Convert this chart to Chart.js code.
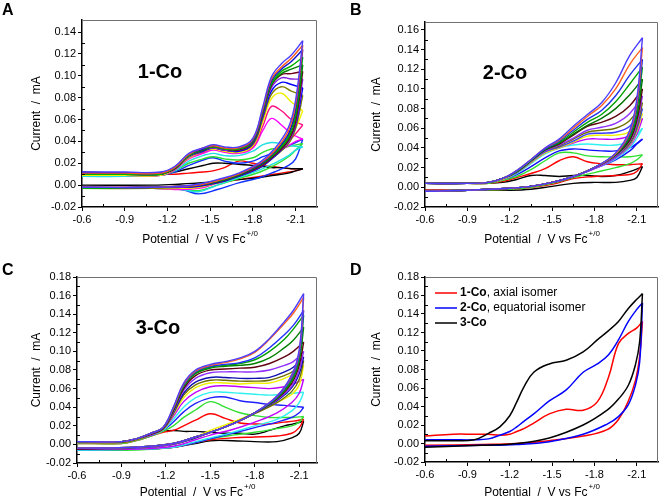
<!DOCTYPE html>
<html>
<head>
<meta charset="utf-8">
<script src="https://cdn.jsdelivr.net/npm/chart.js@4.4.1/dist/chart.umd.min.js"></script>
<style>
body { margin: 0; background: #fff; }
#wrap { position: relative; width: 661px; height: 500px; }
canvas { position: absolute; }
</style>
</head>
<body>
<div id="wrap">
  <canvas id="cA" width="330" height="250" style="left:0px;top:0px"></canvas>
  <canvas id="cB" width="331" height="250" style="left:330px;top:0px"></canvas>
  <canvas id="cC" width="330" height="250" style="left:0px;top:250px"></canvas>
  <canvas id="cD" width="331" height="250" style="left:330px;top:250px"></canvas>
</div>
<script>
// ---- axis ticks ----
const xTicks = [-0.6, -0.9, -1.2, -1.5, -1.8, -2.1];
const xMinor = [-0.75, -1.05, -1.35, -1.65, -1.95];
const yTicksA = [-0.02, 0, 0.02, 0.04, 0.06, 0.08, 0.10, 0.12, 0.14];
const yTicksB = [-0.02, 0, 0.02, 0.04, 0.06, 0.08, 0.10, 0.12, 0.14, 0.16];
const yTicksC = [-0.02, 0, 0.02, 0.04, 0.06, 0.08, 0.10, 0.12, 0.14, 0.16, 0.18];

// ---- panel A : 1-Co ----
const potFwdA = [-0.6, -0.9, -1.15, -1.25, -1.35, -1.45, -1.52, -1.6, -1.7, -1.8, -1.87, -1.93, -2.0, -2.07, -2.15];
const potRevA = [-2.15, -2.1, -2.05, -1.95, -1.85, -1.7, -1.55, -1.42, -1.3, -1.1, -0.6];
const colorsA = ['#4b3cff','#ff5a1e','#1010c8','#00b000','#008000','#700020','#8020e0','#0000ff','#808000','#f0f000','#ff1080','#ff00ff','#20e0e0','#30e030','#1030ff','#000000','#ff0000'];
const fwdA = [
  [0.012,0.012,0.012,0.017,0.029,0.034,0.037,0.035,0.035,0.043,0.072,0.099,0.111,0.119,0.132],
  [0.011,0.011,0.011,0.016,0.028,0.034,0.036,0.034,0.034,0.042,0.070,0.097,0.108,0.116,0.128],
  [0.011,0.011,0.011,0.016,0.028,0.033,0.036,0.034,0.034,0.041,0.069,0.095,0.106,0.113,0.124],
  [0.010,0.010,0.010,0.016,0.027,0.033,0.035,0.033,0.033,0.040,0.068,0.093,0.104,0.109,0.117],
  [0.010,0.010,0.010,0.015,0.027,0.032,0.035,0.033,0.033,0.040,0.067,0.092,0.102,0.106,0.110],
  [0.011,0.011,0.011,0.015,0.027,0.032,0.035,0.033,0.032,0.039,0.066,0.091,0.101,0.102,0.104],
  [0.010,0.010,0.010,0.015,0.026,0.032,0.034,0.032,0.032,0.039,0.065,0.089,0.098,0.097,0.097],
  [0.010,0.010,0.010,0.015,0.026,0.031,0.034,0.032,0.031,0.038,0.063,0.086,0.094,0.092,0.089],
  [0.010,0.010,0.010,0.015,0.026,0.031,0.034,0.032,0.031,0.037,0.061,0.083,0.090,0.086,0.082],
  [0.009,0.009,0.009,0.015,0.025,0.031,0.033,0.031,0.030,0.036,0.058,0.079,0.084,0.076,0.068],
  [0.009,0.009,0.009,0.014,0.025,0.030,0.033,0.031,0.030,0.035,0.054,0.072,0.068,0.060,0.055],
  [0.009,0.009,0.009,0.014,0.024,0.029,0.032,0.030,0.029,0.034,0.050,0.061,0.055,0.047,0.042],
  [0.008,0.008,0.009,0.013,0.022,0.027,0.029,0.027,0.027,0.031,0.037,0.039,0.038,0.036,0.035],
  [0.009,0.009,0.009,0.013,0.020,0.024,0.026,0.024,0.023,0.025,0.030,0.033,0.034,0.036,0.038],
  [0.009,0.009,0.009,0.012,0.018,0.023,0.025,0.022,0.020,0.022,0.026,0.029,0.033,0.037,0.042],
  [0.012,0.011,0.011,0.012,0.015,0.018,0.020,0.020,0.019,0.018,0.017,0.016,0.016,0.015,0.015],
  [0.010,0.010,0.010,0.010,0.011,0.012,0.013,0.016,0.022,0.020,0.018,0.017,0.016,0.015,0.015]
];
const revA = [
  [0.132,0.078,0.053,0.033,0.021,0.011,0.005,0.001,-0.001,-0.002,-0.002],
  [0.128,0.074,0.050,0.031,0.020,0.010,0.004,0.000,-0.001,-0.002,-0.002],
  [0.124,0.070,0.047,0.030,0.019,0.010,0.004,0.000,-0.001,-0.002,-0.002],
  [0.117,0.066,0.045,0.029,0.019,0.010,0.004,0.000,-0.001,-0.002,-0.003],
  [0.110,0.062,0.043,0.028,0.018,0.009,0.003,0.000,-0.001,-0.002,-0.003],
  [0.104,0.058,0.041,0.027,0.017,0.009,0.003,0.000,-0.001,-0.002,-0.003],
  [0.097,0.056,0.040,0.027,0.017,0.009,0.003,0.000,-0.002,-0.002,-0.003],
  [0.089,0.055,0.040,0.026,0.016,0.008,0.002,-0.001,-0.002,-0.002,-0.003],
  [0.082,0.052,0.038,0.026,0.016,0.008,0.002,-0.001,-0.002,-0.003,-0.003],
  [0.068,0.052,0.041,0.028,0.018,0.009,0.002,-0.002,-0.003,-0.003,-0.003],
  [0.055,0.047,0.040,0.029,0.020,0.010,0.002,-0.002,-0.003,-0.003,-0.003],
  [0.042,0.040,0.036,0.028,0.019,0.010,0.002,-0.003,-0.004,-0.003,-0.003],
  [0.035,0.032,0.027,0.020,0.014,0.007,0.000,-0.006,-0.004,-0.003,-0.003],
  [0.038,0.032,0.026,0.018,0.012,0.006,0.000,-0.005,-0.004,-0.003,-0.003],
  [0.042,0.024,0.018,0.012,0.007,0.002,-0.004,-0.008,-0.004,-0.003,-0.002],
  [0.015,0.013,0.011,0.009,0.007,0.005,0.003,0.002,0.001,0.000,0.000],
  [0.015,0.013,0.012,0.010,0.008,0.005,0.002,0.000,-0.001,-0.002,-0.002]
];

// ---- panel B : 2-Co ----
const potFwdB = [-0.6, -0.9, -1.05, -1.15, -1.25, -1.35, -1.45, -1.55, -1.65, -1.75, -1.85, -1.95, -2.05, -2.14];
const potRevB = [-2.14, -2.1, -2.05, -1.95, -1.8, -1.65, -1.5, -1.35, -1.2, -0.9, -0.6];
const colorsB = ['#4b3cff','#ff6020','#2030e8','#00a000','#007000','#600010','#9030ff','#707000','#3c3cff','#f0f000','#c000ff','#30f0f0','#1010ff','#30e030','#ff0000','#000000'];
const fwdB = [
  [0.004,0.004,0.005,0.009,0.017,0.028,0.040,0.049,0.062,0.074,0.086,0.106,0.134,0.152],
  [0.004,0.004,0.005,0.009,0.017,0.028,0.040,0.048,0.060,0.072,0.083,0.100,0.125,0.142],
  [0.004,0.004,0.005,0.009,0.017,0.028,0.039,0.047,0.058,0.069,0.078,0.093,0.114,0.130],
  [0.004,0.004,0.005,0.009,0.016,0.027,0.039,0.046,0.056,0.066,0.074,0.087,0.105,0.122],
  [0.004,0.004,0.005,0.009,0.016,0.027,0.038,0.045,0.054,0.063,0.070,0.080,0.094,0.110],
  [0.004,0.004,0.005,0.009,0.016,0.027,0.038,0.044,0.053,0.062,0.066,0.072,0.083,0.100],
  [0.004,0.004,0.005,0.009,0.016,0.026,0.037,0.043,0.050,0.058,0.061,0.065,0.075,0.093],
  [0.004,0.004,0.005,0.009,0.016,0.026,0.037,0.042,0.049,0.056,0.058,0.060,0.068,0.086],
  [0.004,0.004,0.005,0.009,0.015,0.026,0.036,0.041,0.047,0.054,0.055,0.056,0.062,0.080],
  [0.004,0.004,0.005,0.008,0.015,0.025,0.035,0.040,0.046,0.052,0.053,0.053,0.057,0.075],
  [0.004,0.004,0.005,0.008,0.015,0.025,0.035,0.040,0.045,0.049,0.049,0.049,0.053,0.070],
  [0.004,0.004,0.005,0.008,0.014,0.024,0.034,0.040,0.043,0.044,0.043,0.043,0.047,0.060],
  [0.004,0.004,0.005,0.008,0.013,0.021,0.030,0.037,0.039,0.038,0.037,0.037,0.040,0.049],
  [0.004,0.004,0.004,0.007,0.011,0.018,0.027,0.035,0.035,0.032,0.031,0.031,0.031,0.033],
  [0.004,0.004,0.004,0.006,0.010,0.014,0.019,0.027,0.031,0.026,0.024,0.023,0.023,0.024],
  [0.004,0.004,0.004,0.005,0.008,0.012,0.012,0.011,0.012,0.012,0.011,0.012,0.016,0.021]
];
const revB = [
  [0.152,0.090,0.058,0.035,0.020,0.011,0.005,0.001,-0.001,-0.003,-0.004],
  [0.142,0.086,0.056,0.034,0.020,0.011,0.005,0.001,-0.001,-0.003,-0.004],
  [0.130,0.082,0.054,0.034,0.020,0.011,0.005,0.001,-0.001,-0.003,-0.004],
  [0.122,0.078,0.052,0.034,0.020,0.011,0.005,0.001,-0.001,-0.003,-0.004],
  [0.110,0.072,0.050,0.033,0.020,0.011,0.005,0.001,-0.001,-0.003,-0.004],
  [0.100,0.068,0.048,0.033,0.020,0.011,0.005,0.001,-0.001,-0.003,-0.004],
  [0.093,0.064,0.047,0.032,0.020,0.011,0.005,0.001,-0.001,-0.003,-0.004],
  [0.086,0.061,0.045,0.032,0.020,0.011,0.005,0.001,-0.001,-0.003,-0.004],
  [0.080,0.059,0.044,0.031,0.020,0.011,0.005,0.001,-0.001,-0.003,-0.004],
  [0.075,0.057,0.043,0.031,0.020,0.011,0.005,0.001,-0.001,-0.003,-0.004],
  [0.070,0.054,0.042,0.030,0.019,0.011,0.005,0.001,-0.001,-0.003,-0.004],
  [0.060,0.050,0.040,0.029,0.019,0.011,0.005,0.001,-0.001,-0.003,-0.004],
  [0.049,0.044,0.037,0.028,0.019,0.011,0.005,0.001,-0.001,-0.003,-0.004],
  [0.033,0.028,0.024,0.020,0.015,0.010,0.004,0.000,-0.002,-0.003,-0.004],
  [0.024,0.016,0.013,0.012,0.011,0.009,0.003,0.000,-0.002,-0.003,-0.003],
  [0.021,0.010,0.007,0.005,0.005,0.004,0.001,-0.002,-0.003,-0.003,-0.003]
];

// ---- panel C : 3-Co ----
const potFwdC = [-0.6, -0.9, -1.0, -1.1, -1.18, -1.25, -1.32, -1.4, -1.5, -1.6, -1.7, -1.8, -1.9, -2.0, -2.06, -2.13];
const potRevC = [-2.13, -2.1, -2.05, -1.95, -1.8, -1.65, -1.5, -1.4, -1.25, -1.0, -0.6];
const colorsC = ['#4b3cff','#ff6020','#2030ff','#00a000','#008000','#600010','#9030ff','#1010b0','#707000','#f0f000','#c000ff','#30f0f0','#2020ff','#30e030','#ff0000','#000000'];
const fwdC = [
  [0.003,0.003,0.006,0.012,0.018,0.040,0.066,0.080,0.086,0.089,0.093,0.100,0.114,0.132,0.144,0.162],
  [0.003,0.003,0.006,0.012,0.018,0.039,0.065,0.079,0.085,0.088,0.092,0.099,0.113,0.130,0.141,0.158],
  [0.003,0.003,0.006,0.012,0.018,0.039,0.064,0.078,0.084,0.086,0.088,0.093,0.104,0.118,0.128,0.144],
  [0.003,0.003,0.006,0.012,0.018,0.038,0.063,0.077,0.083,0.085,0.087,0.091,0.100,0.113,0.124,0.139],
  [0.003,0.003,0.006,0.012,0.018,0.037,0.062,0.076,0.082,0.084,0.085,0.087,0.093,0.104,0.112,0.126],
  [0.003,0.003,0.006,0.011,0.017,0.036,0.060,0.074,0.080,0.081,0.082,0.083,0.087,0.094,0.100,0.110],
  [0.003,0.003,0.006,0.011,0.017,0.035,0.058,0.071,0.077,0.078,0.078,0.078,0.080,0.085,0.089,0.100],
  [0.003,0.003,0.006,0.011,0.017,0.034,0.055,0.067,0.072,0.072,0.071,0.071,0.072,0.078,0.083,0.094],
  [0.002,0.002,0.005,0.011,0.016,0.033,0.053,0.064,0.069,0.069,0.068,0.068,0.069,0.074,0.079,0.090],
  [0.002,0.002,0.005,0.011,0.016,0.032,0.050,0.061,0.066,0.066,0.065,0.066,0.066,0.071,0.076,0.085],
  [0.002,0.002,0.005,0.010,0.016,0.030,0.046,0.056,0.062,0.063,0.062,0.061,0.060,0.062,0.065,0.070],
  [0.002,0.002,0.005,0.010,0.015,0.027,0.040,0.050,0.056,0.056,0.055,0.054,0.053,0.054,0.055,0.056],
  [0.002,0.002,0.005,0.010,0.015,0.024,0.035,0.044,0.050,0.051,0.047,0.045,0.043,0.042,0.041,0.040],
  [0.001,0.001,0.004,0.009,0.014,0.020,0.029,0.037,0.046,0.040,0.034,0.031,0.029,0.029,0.029,0.030],
  [0.001,0.001,0.004,0.009,0.013,0.015,0.020,0.026,0.033,0.028,0.023,0.022,0.022,0.024,0.025,0.027],
  [0.003,0.003,0.005,0.010,0.014,0.015,0.014,0.014,0.013,0.012,0.012,0.011,0.015,0.020,0.022,0.025]
];
const revC = [
  [0.162,0.102,0.075,0.052,0.034,0.022,0.013,0.008,0.001,-0.003,-0.004],
  [0.158,0.100,0.074,0.052,0.034,0.022,0.013,0.008,0.001,-0.003,-0.004],
  [0.144,0.096,0.072,0.051,0.034,0.022,0.013,0.008,0.001,-0.003,-0.004],
  [0.139,0.093,0.070,0.050,0.034,0.022,0.013,0.008,0.001,-0.003,-0.004],
  [0.126,0.090,0.068,0.050,0.034,0.022,0.013,0.008,0.001,-0.003,-0.004],
  [0.110,0.085,0.066,0.049,0.034,0.022,0.013,0.008,0.001,-0.003,-0.005],
  [0.100,0.080,0.063,0.048,0.034,0.022,0.013,0.008,0.000,-0.004,-0.005],
  [0.094,0.076,0.061,0.047,0.034,0.022,0.013,0.007,0.000,-0.004,-0.005],
  [0.090,0.070,0.057,0.045,0.033,0.022,0.013,0.007,0.000,-0.004,-0.005],
  [0.085,0.064,0.054,0.045,0.034,0.024,0.015,0.008,0.000,-0.004,-0.005],
  [0.070,0.055,0.045,0.034,0.024,0.016,0.010,0.005,-0.002,-0.005,-0.005],
  [0.056,0.045,0.036,0.027,0.020,0.013,0.007,0.003,-0.003,-0.005,-0.006],
  [0.040,0.034,0.029,0.024,0.018,0.012,0.006,0.002,-0.003,-0.005,-0.006],
  [0.030,0.024,0.020,0.017,0.013,0.010,0.006,0.002,-0.003,-0.006,-0.006],
  [0.027,0.018,0.012,0.009,0.008,0.007,0.005,0.002,-0.003,-0.005,-0.005],
  [0.025,0.012,0.007,0.003,0.003,0.004,0.004,0.001,-0.003,-0.005,-0.005]
];

// ---- panel D : comparison of the three isomers ----
const potFwdD = [-0.6, -0.8, -0.95, -1.05, -1.13, -1.2, -1.25, -1.3, -1.37, -1.48, -1.6, -1.72, -1.82, -1.9, -1.97, -2.04, -2.1, -2.14];
const potRevD = [-2.14, -2.12, -2.09, -2.04, -1.97, -1.89, -1.72, -1.48, -1.25, -1.0, -0.6];
const colorsD = ['#000000', '#0000ff', '#ff0000'];
const fwdD = [
  [0.003,0.003,0.004,0.011,0.018,0.030,0.045,0.061,0.077,0.086,0.090,0.099,0.112,0.122,0.132,0.146,0.156,0.162],
  [0.004,0.004,0.004,0.005,0.009,0.013,0.018,0.024,0.032,0.046,0.058,0.077,0.086,0.096,0.112,0.132,0.145,0.152],
  [0.008,0.010,0.010,0.010,0.009,0.010,0.013,0.016,0.022,0.032,0.037,0.036,0.045,0.072,0.108,0.119,0.125,0.132]
];
const revD = [
  [0.162,0.110,0.085,0.063,0.048,0.036,0.020,0.006,0.000,-0.002,-0.004],
  [0.152,0.088,0.063,0.042,0.029,0.021,0.010,0.002,-0.001,-0.002,-0.003],
  [0.132,0.094,0.068,0.046,0.026,0.015,0.008,0.003,0.000,-0.001,-0.002]
];
const legendD = [
  { bold: '1-Co', rest: ', axial isomer', color: '#ff0000' },
  { bold: '2-Co', rest: ', equatorial isomer', color: '#0000ff' },
  { bold: '3-Co', rest: '', color: '#000000' }
];

const FONT = '"Liberation Sans", Arial, sans-serif';

function zip(xs, ys) {
  return xs.map((x, i) => ({ x: x, y: ys[i] }));
}

function cvSets(potF, potR, fwd, rev, colors, width) {
  let sets = [];
  fwd.forEach((f, i) => {
    let base = { borderColor: colors[i], borderWidth: width, pointRadius: 0, tension: 0.4, showLine: true, fill: false };
    sets.push(Object.assign({ data: zip(potF, f) }, base));
    sets.push(Object.assign({ data: zip(potR, rev[i]) }, base));
  });
  return sets;
}

const decor = {
  id: 'decor',
  afterDraw(chart, args, o) {
    const ctx = chart.ctx, a = chart.chartArea;
    const xs = chart.scales.x, ys = chart.scales.y;
    ctx.save();
    // top and right frame
    ctx.strokeStyle = '#707070';
    ctx.lineWidth = 1;
    ctx.beginPath();
    ctx.moveTo(a.left, a.top + 0.5);
    ctx.lineTo(a.right - 0.5, a.top + 0.5);
    ctx.lineTo(a.right - 0.5, a.bottom);
    ctx.stroke();
    // minor ticks (inward)
    ctx.strokeStyle = '#000';
    ctx.beginPath();
    xMinor.forEach(v => {
      const px = Math.round(xs.getPixelForValue(v)) + 0.5;
      ctx.moveTo(px, a.bottom); ctx.lineTo(px, a.bottom - 3);
    });
    o.yMinor.forEach(v => {
      const py = Math.round(ys.getPixelForValue(v)) + 0.5;
      ctx.moveTo(a.left, py); ctx.lineTo(a.left + 3, py);
    });
    ctx.stroke();
    ctx.fillStyle = '#000';
    // x title with superscript
    const main = 'Potential  /  V vs Fc', sup = '+/0';
    ctx.font = '12px ' + FONT;
    const w1 = ctx.measureText(main).width;
    ctx.font = '8px ' + FONT;
    const w2 = ctx.measureText(sup).width;
    const cx = (a.left + a.right) / 2;
    let sx = cx - (w1 + w2) / 2;
    ctx.textBaseline = 'alphabetic';
    ctx.textAlign = 'left';
    ctx.font = '12px ' + FONT;
    ctx.fillText(main, sx, o.titleY);
    ctx.font = '8px ' + FONT;
    ctx.fillText(sup, sx + w1 + 1, o.titleY - 7);
    // y title
    ctx.save();
    ctx.translate(o.yTitleX, (a.top + a.bottom) / 2);
    ctx.rotate(-Math.PI / 2);
    ctx.textAlign = 'center';
    ctx.textBaseline = 'middle';
    ctx.font = '12px ' + FONT;
    ctx.fillText('Current  /  mA', 0, 0);
    ctx.restore();
    // panel letter
    ctx.font = 'bold 16px ' + FONT;
    ctx.textAlign = 'left';
    ctx.textBaseline = 'top';
    ctx.fillText(o.letter, o.letterX, o.letterY);
    // in-plot label
    if (o.label) {
      ctx.font = 'bold 20px ' + FONT;
      ctx.textAlign = 'center';
      ctx.textBaseline = 'middle';
      ctx.fillText(o.label, o.labelX, o.labelY);
    }
    // legend
    if (o.legend) {
      o.legend.forEach((item, i) => {
        const y = o.legendY + i * 15;
        ctx.strokeStyle = item.color;
        ctx.lineWidth = 1.5;
        ctx.beginPath();
        ctx.moveTo(o.legendX, y); ctx.lineTo(o.legendX + 22, y);
        ctx.stroke();
        ctx.textAlign = 'left';
        ctx.textBaseline = 'middle';
        ctx.font = 'bold 12px ' + FONT;
        ctx.fillText(item.bold, o.legendX + 25, y);
        const bw = ctx.measureText(item.bold).width;
        ctx.font = '12px ' + FONT;
        ctx.fillText(item.rest, o.legendX + 25 + bw, y);
      });
    }
    ctx.restore();
  }
};

function makePanel(id, p) {
  return new Chart(document.getElementById(id), {
    type: 'scatter',
    data: { datasets: p.datasets },
    plugins: [decor],
    options: {
      responsive: false,
      animation: false,
      layout: { padding: { left: 0, top: p.padTop, right: p.padRight, bottom: 0 } },
      plugins: {
        legend: { display: false },
        tooltip: { enabled: false },
        decor: p.decor
      },
      scales: {
        x: {
          type: 'linear',
          min: p.xMin, max: -0.6, reverse: true,
          afterBuildTicks: s => { s.ticks = xTicks.map(v => ({ value: v })); },
          afterFit: s => { s.height = p.xHeight; },
          ticks: { callback: v => v.toFixed(1), color: '#000', font: { family: FONT, size: 11 }, padding: 2, maxRotation: 0, autoSkip: false },
          grid: { drawOnChartArea: false, tickLength: 4, tickColor: '#000', tickWidth: 1 },
          border: { color: '#000', width: 1.5 }
        },
        y: {
          type: 'linear',
          min: -0.02, max: p.yMax,
          afterBuildTicks: s => { s.ticks = p.yTicks.map(v => ({ value: v })); },
          afterFit: s => { s.width = p.yWidth; },
          ticks: { callback: v => v.toFixed(2), color: '#000', font: { family: FONT, size: 11 }, padding: 2, autoSkip: false },
          grid: { drawOnChartArea: false, tickLength: 4, tickColor: '#000', tickWidth: 1 },
          border: { color: '#000', width: 1.5 }
        }
      }
    }
  });
}

const yMinorA = [-0.01, 0.01, 0.03, 0.05, 0.07, 0.09, 0.11, 0.13];
const yMinorB = [-0.01, 0.01, 0.03, 0.05, 0.07, 0.09, 0.11, 0.13, 0.15];
const yMinorC = [-0.01, 0.01, 0.03, 0.05, 0.07, 0.09, 0.11, 0.13, 0.15, 0.17];

makePanel('cA', {
  datasets: cvSets(potFwdA, potRevA, fwdA, revA, colorsA, 1.4),
  padTop: 20, padRight: 13, yWidth: 82, xHeight: 43, xMin: -2.25, yMax: 0.151, yTicks: yTicksA,
  decor: { yMinor: yMinorA, yTitleX: 37, titleY: 243, letter: 'A', letterX: 2, letterY: 3, label: '1-Co', labelX: 160, labelY: 72 }
});

makePanel('cB', {
  datasets: cvSets(potFwdB, potRevB, fwdB, revB, colorsB, 1.4),
  padTop: 22, padRight: 3, yWidth: 95, xHeight: 43, xMin: -2.25, yMax: 0.168, yTicks: yTicksB,
  decor: { yMinor: yMinorB, yTitleX: 47, titleY: 243, letter: 'B', letterX: 20, letterY: 3, label: '2-Co', labelX: 175, labelY: 73 }
});

makePanel('cC', {
  datasets: cvSets(potFwdC, potRevC, fwdC, revC, colorsC, 1.4),
  padTop: 27, padRight: 13, yWidth: 77, xHeight: 37, xMin: -2.22, yMax: 0.18, yTicks: yTicksC,
  decor: { yMinor: yMinorC, yTitleX: 37, titleY: 246, letter: 'C', letterX: 2, letterY: 13, label: '3-Co', labelX: 158, labelY: 78 }
});

makePanel('cD', {
  datasets: cvSets(potFwdD, potRevD, fwdD, revD, colorsD, 1.5),
  padTop: 27, padRight: 3, yWidth: 95, xHeight: 38, xMin: -2.25, yMax: 0.18, yTicks: yTicksC,
  decor: { yMinor: yMinorC, yTitleX: 47, titleY: 246, letter: 'D', letterX: 20, letterY: 13, legend: legendD, legendX: 105, legendY: 43 }
});
</script>
</body>
</html>
